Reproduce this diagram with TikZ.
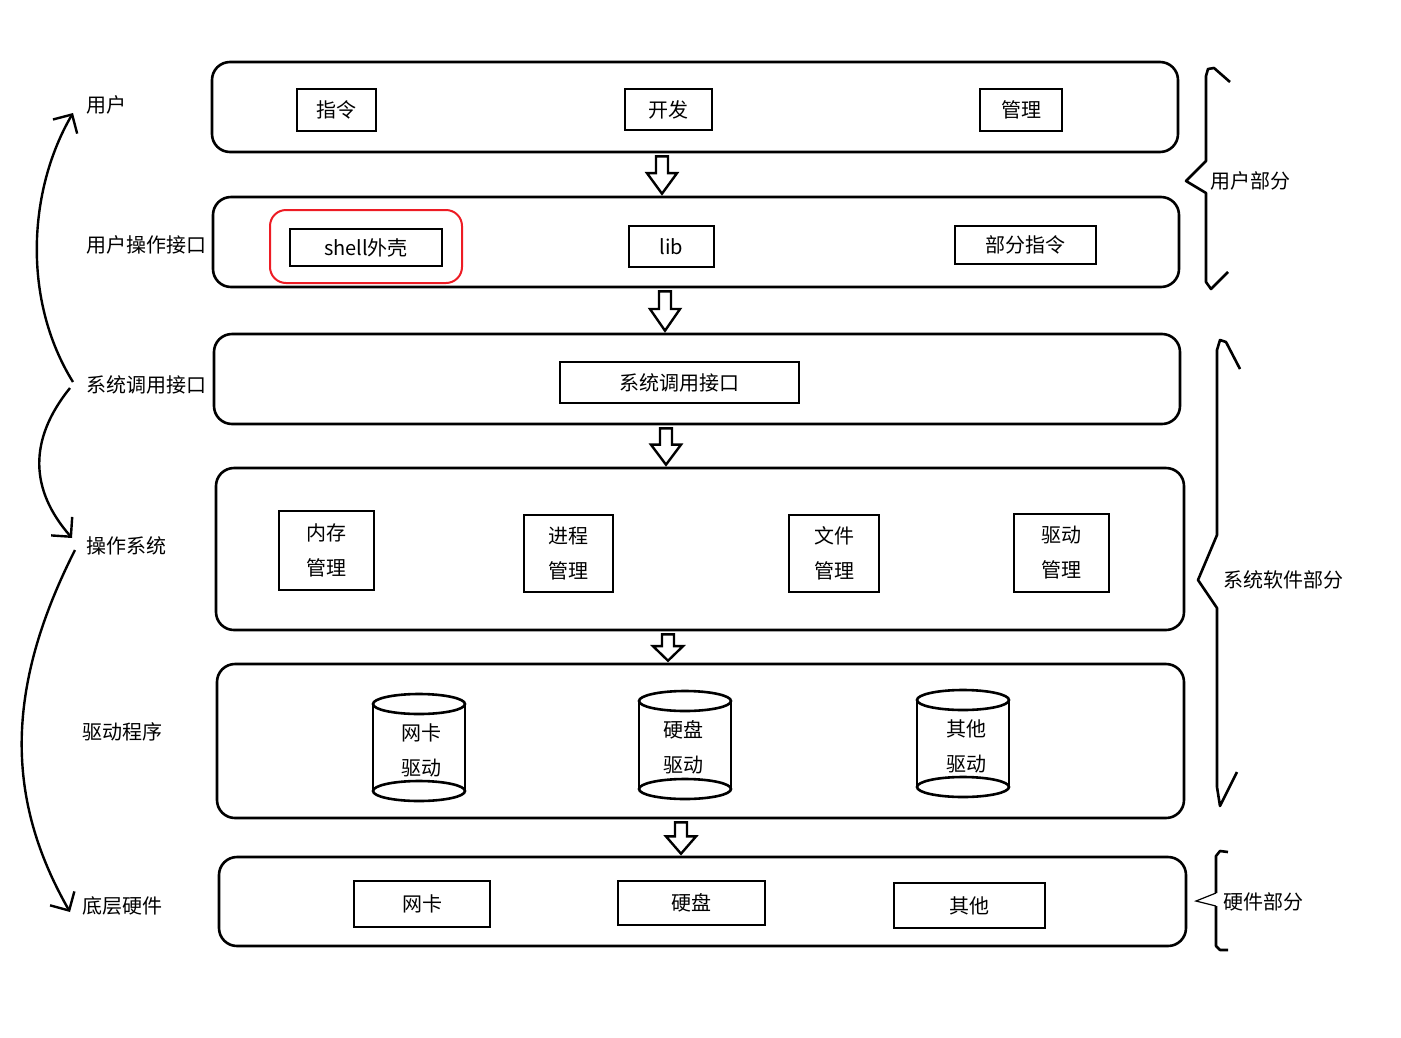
\documentclass[tikz,border=0pt]{standalone}
\usepackage{fontspec}
\setmainfont{Noto Sans CJK SC}
\usetikzlibrary{arrows.meta,calc}
\definecolor{shellred}{RGB}{237,28,36}

% hollow block arrow between two layers, at a given x
\newcommand{\hollowdown}[3]{%
  \draw[harrow] let \p1=(#1.south), \p2=(#2.north) in
    (#3pt-6pt,{\y1-3pt}) -- (#3pt+6pt,{\y1-3pt})
    -- (#3pt+6pt,{\y1-3pt+0.45*(\y2-\y1+5pt)})
    -- (#3pt+15pt,{\y1-3pt+0.45*(\y2-\y1+5pt)})
    -- (#3pt,{\y2+2pt})
    -- (#3pt-15pt,{\y1-3pt+0.45*(\y2-\y1+5pt)})
    -- (#3pt-6pt,{\y1-3pt+0.45*(\y2-\y1+5pt)}) -- cycle;}
% drum (cylinder) outline
\newcommand{\drumbody}[3]{%
  \draw[drumline] (#1-46,#2) -- (#1-46,#3) (#1+46,#2) -- (#1+46,#3);
  \draw[drumline] (#1,#2) ellipse [x radius=46pt, y radius=10pt];
  \draw[drumline] (#1,#3) ellipse [x radius=46pt, y radius=10pt];}

\begin{document}
\begin{tikzpicture}[
    x=1pt, y=-1pt,
    every node/.style={font=\fontsize{20}{35}\selectfont},
    layer/.style={draw, line width=2.6pt, rounded corners=18pt, inner sep=0},
    box/.style={draw, line width=2.6pt, inner sep=0, align=center},
    drumtext/.style={inner sep=0, align=center},
    lbl/.style={anchor=west, inner sep=0},
    harrow/.style={line width=2.4pt, line join=miter},
    drumline/.style={line width=2.6pt},
    bendarrow/.style={line width=2.4pt, -{Straight Barb[length=14pt,width=28pt,line width=2.4pt]}},
    brace/.style={line width=2.6pt, line join=round},
  ]
    \useasboundingbox (0,0) rectangle (1401,1037);

    % layers
    \node[layer, minimum width=966pt, minimum height=90pt] (l1) at (695,107) {};
    \node[layer, minimum width=966pt, minimum height=90pt] (l2) at (696,242) {};
    \node[layer, minimum width=966pt, minimum height=90pt] (l3) at (697,379) {};
    \node[layer, minimum width=968pt, minimum height=162pt] (l4) at (700,549) {};
    \node[layer, minimum width=967pt, minimum height=154pt] (l5) at (700.5,741) {};
    \node[layer, minimum width=967pt, minimum height=89pt] (l6) at (702.5,901.5) {};

    % user layer
    \node[box, minimum width=79pt, minimum height=42pt] (cmd) at (336.5,110) {指令};
    \node[box, minimum width=87pt, minimum height=41pt] (dev) at (668.5,109.5) {开发};
    \node[box, minimum width=82pt, minimum height=42pt] (mgr) at (1021,110) {管理};

    % user interface layer
    \node[draw=shellred, line width=2pt, rounded corners=16pt,
          minimum width=192pt, minimum height=73pt] (shellring) at (366,246.5) {};
    \node[box, minimum width=152pt, minimum height=37pt] (shell) at (366,247.5) {shell外壳};
    \node[box, minimum width=85pt, minimum height=41pt] (lib) at (671.5,246.5) {lib};
    \node[box, minimum width=141pt, minimum height=38pt] (part) at (1025.5,245) {部分指令};

    % system call layer
    \node[box, minimum width=239pt, minimum height=41pt] (syscall) at (679.5,382.5) {系统调用接口};

    % os layer
    \node[box, minimum width=95pt, minimum height=79pt] (mem) at (326.5,550.5) {内存\\管理};
    \node[box, minimum width=89pt, minimum height=77pt] (proc) at (568.5,553.5) {进程\\管理};
    \node[box, minimum width=90pt, minimum height=77pt] (file) at (834,553.5) {文件\\管理};
    \node[box, minimum width=95pt, minimum height=78pt] (dmgr) at (1061.5,553) {驱动\\管理};

    % driver layer
    \drumbody{419}{704}{791}
    \drumbody{685}{701}{789}
    \drumbody{963}{700}{787}
    \node[drumtext] (nicdrv) at (421,750) {网卡\\驱动};
    \node[drumtext] (diskdrv) at (683,747) {硬盘\\驱动};
    \node[drumtext] (othdrv) at (966,746) {其他\\驱动};

    % hardware layer
    \node[box, minimum width=136pt, minimum height=46pt] (nic) at (422,904) {网卡};
    \node[box, minimum width=147pt, minimum height=44pt] (disk) at (691.5,903) {硬盘};
    \node[box, minimum width=151pt, minimum height=45pt] (oth) at (969.5,905.5) {其他};

    % arrows between layers
    \hollowdown{l1}{l2}{662}
    \hollowdown{l2}{l3}{665}
    \hollowdown{l3}{l4}{666}
    \hollowdown{l4}{l5}{668}
    \hollowdown{l5}{l6}{681}

    % left labels
    \node[lbl] (lu) at (86,105) {用户};
    \node[lbl] (lui) at (86,245) {用户操作接口};
    \node[lbl] (lsc) at (86,385) {系统调用接口};
    \node[lbl] (los) at (86,546) {操作系统};
    \node[lbl] (ldrv) at (82,732) {驱动程序};
    \node[lbl] (lhw) at (82,906) {底层硬件};

    \draw[bendarrow] ($(lsc.west)+(-13,-3)$) .. controls (22,300) and (28,190) .. ($(lu.west)+(-13,8)$);
    \draw[bendarrow] ($(lsc.west)+(-16,3)$) .. controls (28,440) and (30,490) .. ($(los.west)+(-14,-8)$);
    \draw[bendarrow] ($(los.west)+(-11,4)$) .. controls (4,690) and (6,800) .. ($(lhw.west)+(-12,6)$);

    % right braces
    \draw[brace] (1230,82) -- (1214,68) -- (1208,69) -- (1206,76) -- (1206,161)
      -- (1186,181) -- (1206,193) -- (1206,282) -- (1211,289) -- (1228,272);
    \node[lbl] (userpart) at (1210,181) {用户部分};

    \draw[brace] (1240,369) -- (1226,342) -- (1220,340) -- (1217,350) -- (1217,535)
      -- (1198,580) -- (1217,608) -- (1217,787) -- (1220,806) -- (1237,772);
    \node[lbl] (syspart) at (1223,580) {系统软件部分};

    \draw[brace] (1228,852) -- (1220,851) -- (1216,856) -- (1216,893);
    \draw[line width=1.2pt] (1216,893) -- (1196,901) -- (1216,906);
    \draw[brace] (1216,906) -- (1216,946) -- (1220,950) -- (1228,950);
    \node[lbl] (hwpart) at (1223,902) {硬件部分};
\end{tikzpicture}
\end{document}
